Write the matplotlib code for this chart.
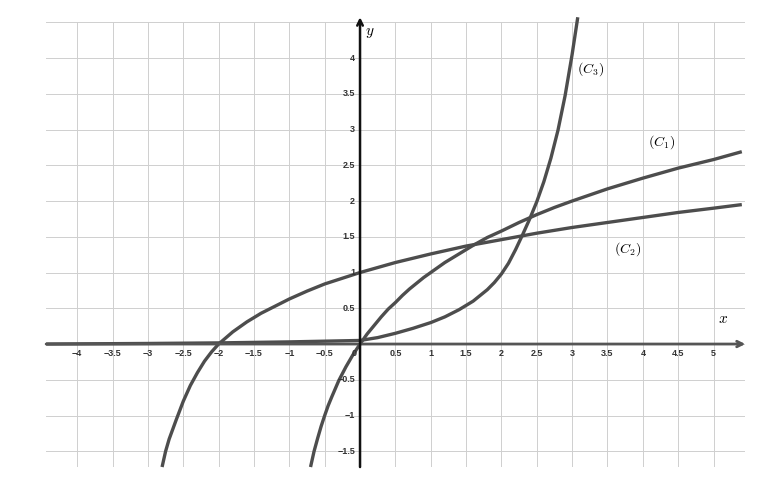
import numpy as np
import matplotlib
matplotlib.use("Agg")
import matplotlib.pyplot as plt

# Curves (x, y in graph units)
c1_x = [-0.70, -0.65, -0.6, -0.55, -0.5, -0.45, -0.4, -0.3, -0.2, -0.1, 0, 0.1, 0.2,
        0.3, 0.4, 0.5, 0.6, 0.7, 0.8, 0.9, 1.0, 1.2, 1.4, 1.6, 1.8, 2.0, 2.25, 2.5,
        2.75, 3.0, 3.5, 4.0, 4.5, 5.0, 5.4]
c1_y = [-1.72, -1.50, -1.32, -1.15, -1.0, -0.86, -0.74, -0.51, -0.32, -0.15, 0, 0.14,
        0.26, 0.38, 0.49, 0.58, 0.68, 0.77, 0.85, 0.93, 1.0, 1.14, 1.26, 1.38, 1.49,
        1.58, 1.70, 1.81, 1.91, 2.0, 2.17, 2.32, 2.46, 2.58, 2.69]

c2_x = [-2.80, -2.75, -2.7, -2.6, -2.5, -2.4, -2.3, -2.2, -2.1, -2.0, -1.8, -1.6,
        -1.4, -1.2, -1.0, -0.75, -0.5, -0.25, 0, 0.5, 1.0, 1.5, 2.0, 2.5, 3.0, 3.5,
        4.0, 4.5, 5.0, 5.4]
c2_y = [-1.72, -1.50, -1.33, -1.06, -0.80, -0.58, -0.40, -0.24, -0.11, 0, 0.17, 0.31,
        0.43, 0.53, 0.63, 0.74, 0.84, 0.92, 1.0, 1.14, 1.26, 1.37, 1.46, 1.55, 1.63,
        1.70, 1.77, 1.84, 1.90, 1.95]

c3_x = [-4.44, -3, -2, -1, -0.5, 0, 0.25, 0.5, 0.75, 1.0, 1.2, 1.4, 1.6, 1.8, 1.9,
        2.0, 2.1, 2.2, 2.3, 2.4, 2.5, 2.6, 2.7, 2.8, 2.9, 3.0, 3.08]
c3_y = [0.0, 0.008, 0.016, 0.03, 0.04, 0.05, 0.09, 0.15, 0.22, 0.30, 0.38, 0.48,
        0.60, 0.76, 0.86, 0.98, 1.13, 1.32, 1.53, 1.75, 1.99, 2.27, 2.60, 2.99, 3.47,
        4.05, 4.57]

x_ticks = [-4, -3.5, -3, -2.5, -2, -1.5, -1, -0.5, 0.5, 1, 1.5, 2, 2.5, 3, 3.5, 4, 4.5, 5]
y_ticks = [-1.5, -1, -0.5, 0.5, 1, 1.5, 2, 2.5, 3, 3.5, 4]

x_min, x_max = -4.44, 5.45
y_min, y_max = -1.72, 4.5


def fmt(v):
    s = f"{v:g}"
    return s.replace("-", "\u2212")


plt.rcParams["mathtext.fontset"] = "cm"

fig = plt.figure(figsize=(7.83, 4.98), dpi=100)
ax = fig.add_axes([0.0589, 0.0622, 0.893, 0.8931])
ax.set_xlim(x_min, x_max)
ax.set_ylim(y_min, y_max)

# grid every 0.5
ax.set_xticks(np.arange(-4, 5.01, 0.5))
ax.set_yticks(np.arange(-1.5, 4.51, 0.5))
ax.tick_params(length=0, labelbottom=False, labelleft=False)
ax.grid(True, color="#cfcfcf", lw=0.7)
for s in ax.spines.values():
    s.set_visible(False)

curve_kw = dict(color="#4d4d4d", lw=2.4, solid_capstyle="butt", solid_joinstyle="round",
                clip_on=False, zorder=3)
ax.plot(c3_x, c3_y, **curve_kw)
ax.plot(c1_x, c1_y, **curve_kw)
ax.plot(c2_x, c2_y, **curve_kw)

# axes with arrows
ax.annotate("", xy=(x_max, 0), xytext=(x_min, 0), annotation_clip=False,
            arrowprops=dict(arrowstyle="->", lw=2.0, color="#555555",
                            shrinkA=0, shrinkB=0, mutation_scale=10), zorder=4)
ax.annotate("", xy=(0, 4.57), xytext=(0, y_min), annotation_clip=False,
            arrowprops=dict(arrowstyle="->", lw=1.8, color="#111111",
                            shrinkA=0, shrinkB=0, mutation_scale=10), zorder=4)

lab_kw = dict(fontsize=6.5, color="#333333", fontweight="bold", family="Liberation Sans")
for v in x_ticks:
    ax.text(v, -0.13, fmt(v), ha="center", va="center", **lab_kw)
ax.text(-0.09, -0.13, "0", ha="center", va="center", **lab_kw)
for v in y_ticks:
    ax.text(-0.07, v, fmt(v), ha="right", va="center", **lab_kw)

ax.text(5.14, 0.36, r"$x$", fontsize=11, ha="center", va="center")
ax.text(0.14, 4.36, r"$y$", fontsize=11, ha="center", va="center")
ax.text(3.07, 3.85, r"$(C_3)$", fontsize=10, ha="left", va="center")
ax.text(4.08, 2.83, r"$(C_1)$", fontsize=10, ha="left", va="center")
ax.text(3.59, 1.33, r"$(C_2)$", fontsize=10, ha="left", va="center")

fig.savefig("out.png", dpi=100)
